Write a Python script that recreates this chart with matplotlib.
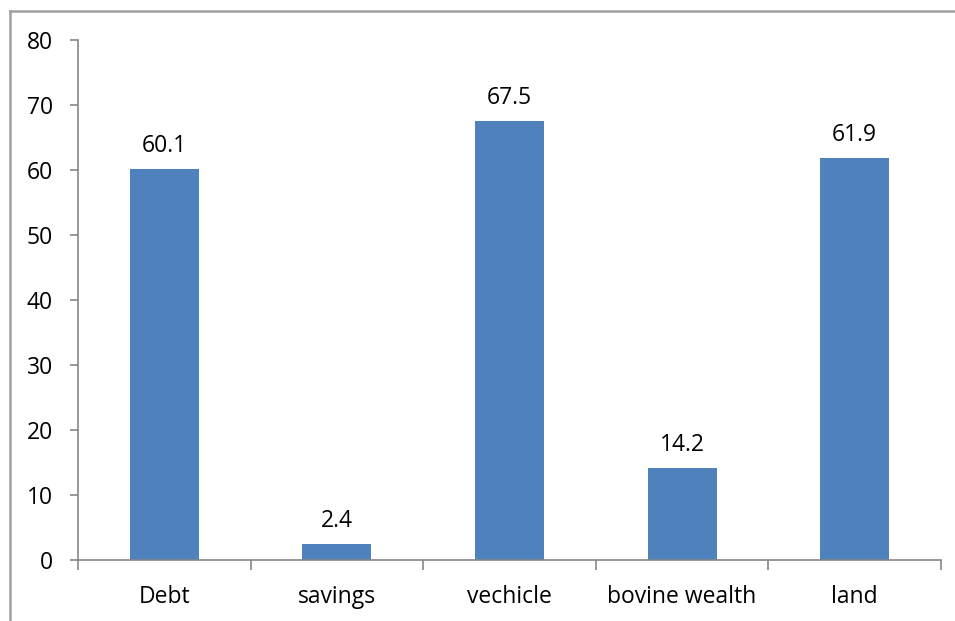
import matplotlib as mpl
mpl.use("Agg")
import matplotlib.pyplot as plt
from matplotlib.lines import Line2D
import numpy as np

categories = ["Debt", "savings", "vechicle", "bovine wealth", "land"]
values = [60.1, 2.4, 67.5, 14.2, 61.9]
yticks = [0, 10, 20, 30, 40, 50, 60, 70, 80]

plt.rcParams['font.family'] = ['Open Sans', 'DejaVu Sans']
axis_grey = "#868686"
bar_blue = "#4f81bd"
fs = 16.5

W, H = 955, 621
fig = plt.figure(figsize=(W / 100, H / 100), dpi=100)
ax = fig.add_axes([78 / W, (H - 560) / H, (941 - 78) / W, (560 - 40) / H])

x = np.arange(len(categories))
ax.bar(x, values, width=0.4, color=bar_blue, zorder=2)
for xi, v in zip(x, values):
    ax.annotate(f"{v}", (xi, v), xytext=(0, 8), textcoords="offset points",
                ha="center", va="bottom", fontsize=fs)

ax.set_xlim(-0.5, len(categories) - 0.5)
ax.set_ylim(0, 80)
ax.set_yticks(yticks)
ax.tick_params(axis="y", direction="out", length=6, width=1.2, color=axis_grey,
               labelsize=fs, pad=12)

# category labels centred, tick marks on the boundaries
ax.set_xticks(x)
ax.set_xticklabels(categories)
ax.tick_params(axis="x", length=0, labelsize=fs, pad=18)
ax.set_xticks(np.arange(-0.5, len(categories)), minor=True)
ax.tick_params(axis="x", which="minor", direction="out", length=7, width=1.2,
               color=axis_grey)

for side in ["top", "right"]:
    ax.spines[side].set_visible(False)
for side in ["left", "bottom"]:
    ax.spines[side].set_color(axis_grey)
    ax.spines[side].set_linewidth(1.2)

# chart frame (top and left edges)
fig.add_artist(Line2D([9.5 / W, 1.0], [1 - 10.5 / H, 1 - 10.5 / H],
                      transform=fig.transFigure, color="#a0a0a0", lw=1.8))
fig.add_artist(Line2D([9.5 / W, 9.5 / W], [0, 1 - 10.5 / H],
                      transform=fig.transFigure, color="#a0a0a0", lw=1.8))

fig.savefig("out.png", dpi=100)
